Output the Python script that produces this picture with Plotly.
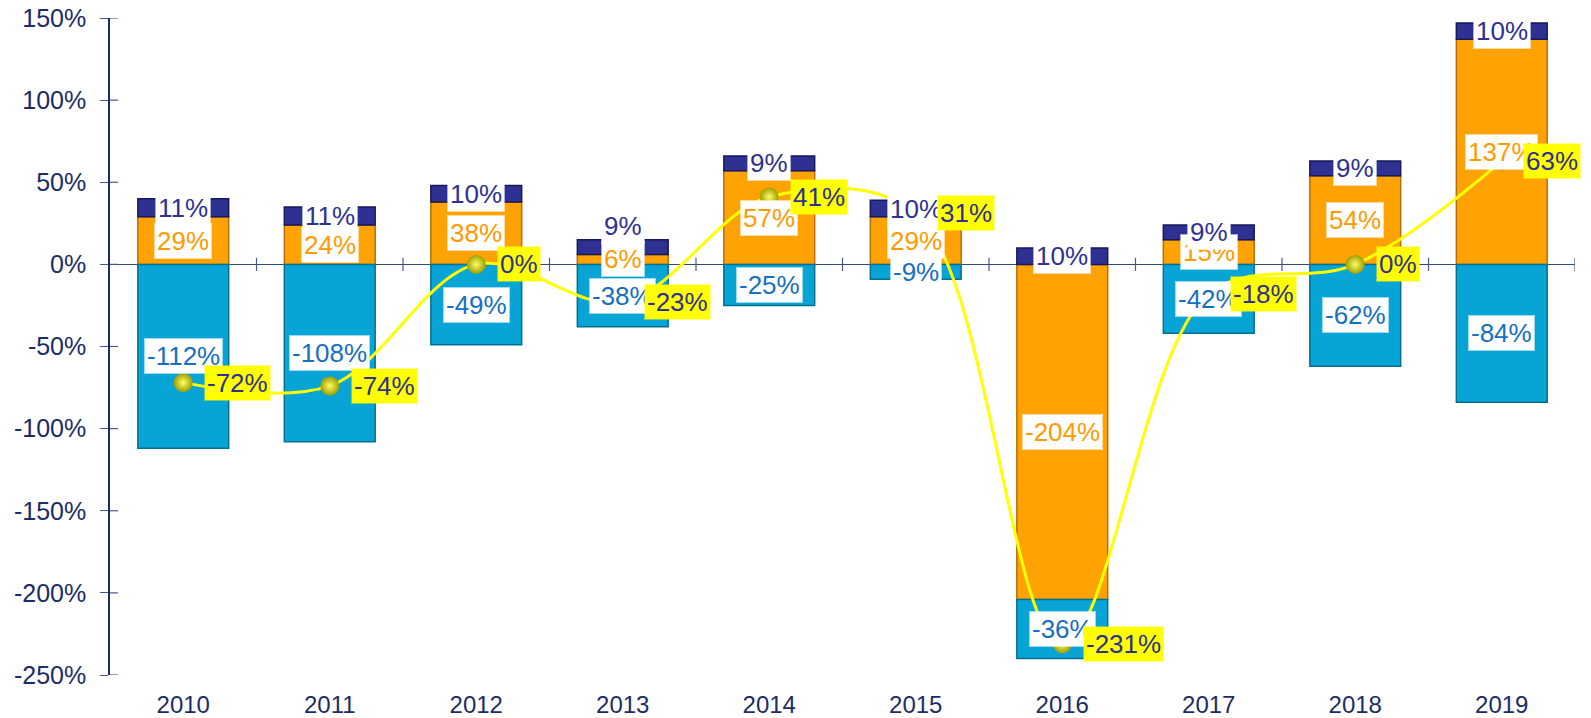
import plotly.graph_objects as go

# ---------------- data ----------------
years = ["2010", "2011", "2012", "2013", "2014", "2015", "2016", "2017", "2018", "2019"]
orange_vals = [29, 24, 38, 6, 57, 29, -204, 15, 54, 137]
blue_vals = [-112, -108, -49, -38, -25, -9, -36, -42, -62, -84]
navy_vals = [11, 11, 10, 9, 9, 10, 10, 9, 9, 10]
total_vals = [-72, -74, 0, -23, 41, 31, -231, -18, 0, 63]
y_ticks = [-250, -200, -150, -100, -50, 0, 50, 100, 150]

# ---------------- styles ----------------
FONT = "Arial, 'Liberation Sans', sans-serif"
AXIS_TEXT = "#1C2C66"
AXIS_LINE = "#1C2A6A"
TICK_COL = "#4A5A8C"
ORANGE = "#FFA305"
BLUE = "#08A4D6"
NAVY = "#2E3192"
YELLOW = "#FFFF00"

series = [
    ("orange", orange_vals, ORANGE, "#B86F00", "#FF9A00"),
    ("blue", blue_vals, BLUE, "#04708F", "#1570C2"),
    ("navy", navy_vals, NAVY, "#17195A", "#2E3192"),
]
label_nudge = {("navy", "2013"): 21}

fig = go.Figure()
for name, vals, fill, edge, _ in series:
    fig.add_trace(go.Bar(
        x=years, y=vals, name=name,
        marker=dict(color=fill, line=dict(color=edge, width=1.5)),
        hoverinfo="skip", showlegend=False,
    ))

fig.add_trace(go.Scatter(
    x=years, y=total_vals, mode="lines+markers",
    line=dict(color=YELLOW, width=3, shape="spline", smoothing=1),
    marker=dict(size=19, color="#9E9E00",
                gradient=dict(type="radial", color="#FFFF66"),
                line=dict(width=0)),
    showlegend=False, hoverinfo="skip",
))

annotations = []
pos = [0.0] * len(years)
neg = [0.0] * len(years)
for name, vals, _, _, txt in series:
    for i, v in enumerate(vals):
        if v >= 0:
            base = pos[i]
            pos[i] += v
        else:
            base = neg[i]
            neg[i] += v
        annotations.append(dict(
            xref="x", yref="y",
            x=i, y=base + v / 2, text=f"{v}%", showarrow=False,
            font=dict(family=FONT, size=26, color=txt),
            bgcolor="white", bordercolor="rgba(255,255,255,0.6)",
            borderwidth=2, borderpad=1,
            yshift=label_nudge.get((name, years[i]), 0),
        ))

for i, v in enumerate(total_vals):
    annotations.append(dict(
        xref="x", yref="y",
        x=i, y=v, text=f"{v}%", showarrow=False,
        xanchor="left", xshift=21,
        font=dict(family=FONT, size=26, color=NAVY),
        bgcolor=YELLOW, bordercolor="rgba(255,255,0,0.45)",
        borderwidth=2, borderpad=1,
    ))

shapes = []
# x-axis ticks crossing the zero line at category boundaries
for i in range(len(years)):
    shapes.append(dict(type="line", xref="x", yref="y",
                       x0=i + 0.5, x1=i + 0.5, y0=-4, y1=4,
                       line=dict(color=TICK_COL, width=1.2)))
# inner half of the y-axis ticks
for t in y_ticks:
    shapes.append(dict(type="line", xref="paper", yref="y",
                       x0=0, x1=0.0055, y0=t, y1=t,
                       line=dict(color=TICK_COL, width=1.2)))

fig.update_layout(
    width=1591, height=718,
    margin=dict(l=102, r=24, t=10, b=51),
    paper_bgcolor="white", plot_bgcolor="white",
    barmode="relative", bargap=0.38,
    annotations=annotations, shapes=shapes,
    xaxis=dict(
        type="category", range=[-0.5, len(years) - 0.5],
        showgrid=False, showline=False, ticks="", zeroline=False,
        tickfont=dict(family=FONT, size=24, color=AXIS_TEXT),
        ticklabelstandoff=13, automargin=False,
    ),
    yaxis=dict(
        range=[-250, 150], tickvals=y_ticks,
        ticktext=[f"{t}%" for t in y_ticks],
        showgrid=False, showline=True, linecolor=AXIS_LINE, linewidth=1.5,
        ticks="outside", ticklen=8, tickcolor=TICK_COL, tickwidth=1.2,
        zeroline=True, zerolinecolor="#2F4A80", zerolinewidth=1.2,
        tickfont=dict(family=FONT, size=25, color=AXIS_TEXT),
        ticklabelstandoff=9, automargin=False, ticklabeloverflow="allow",
    ),
)

fig.write_html("out.html")
